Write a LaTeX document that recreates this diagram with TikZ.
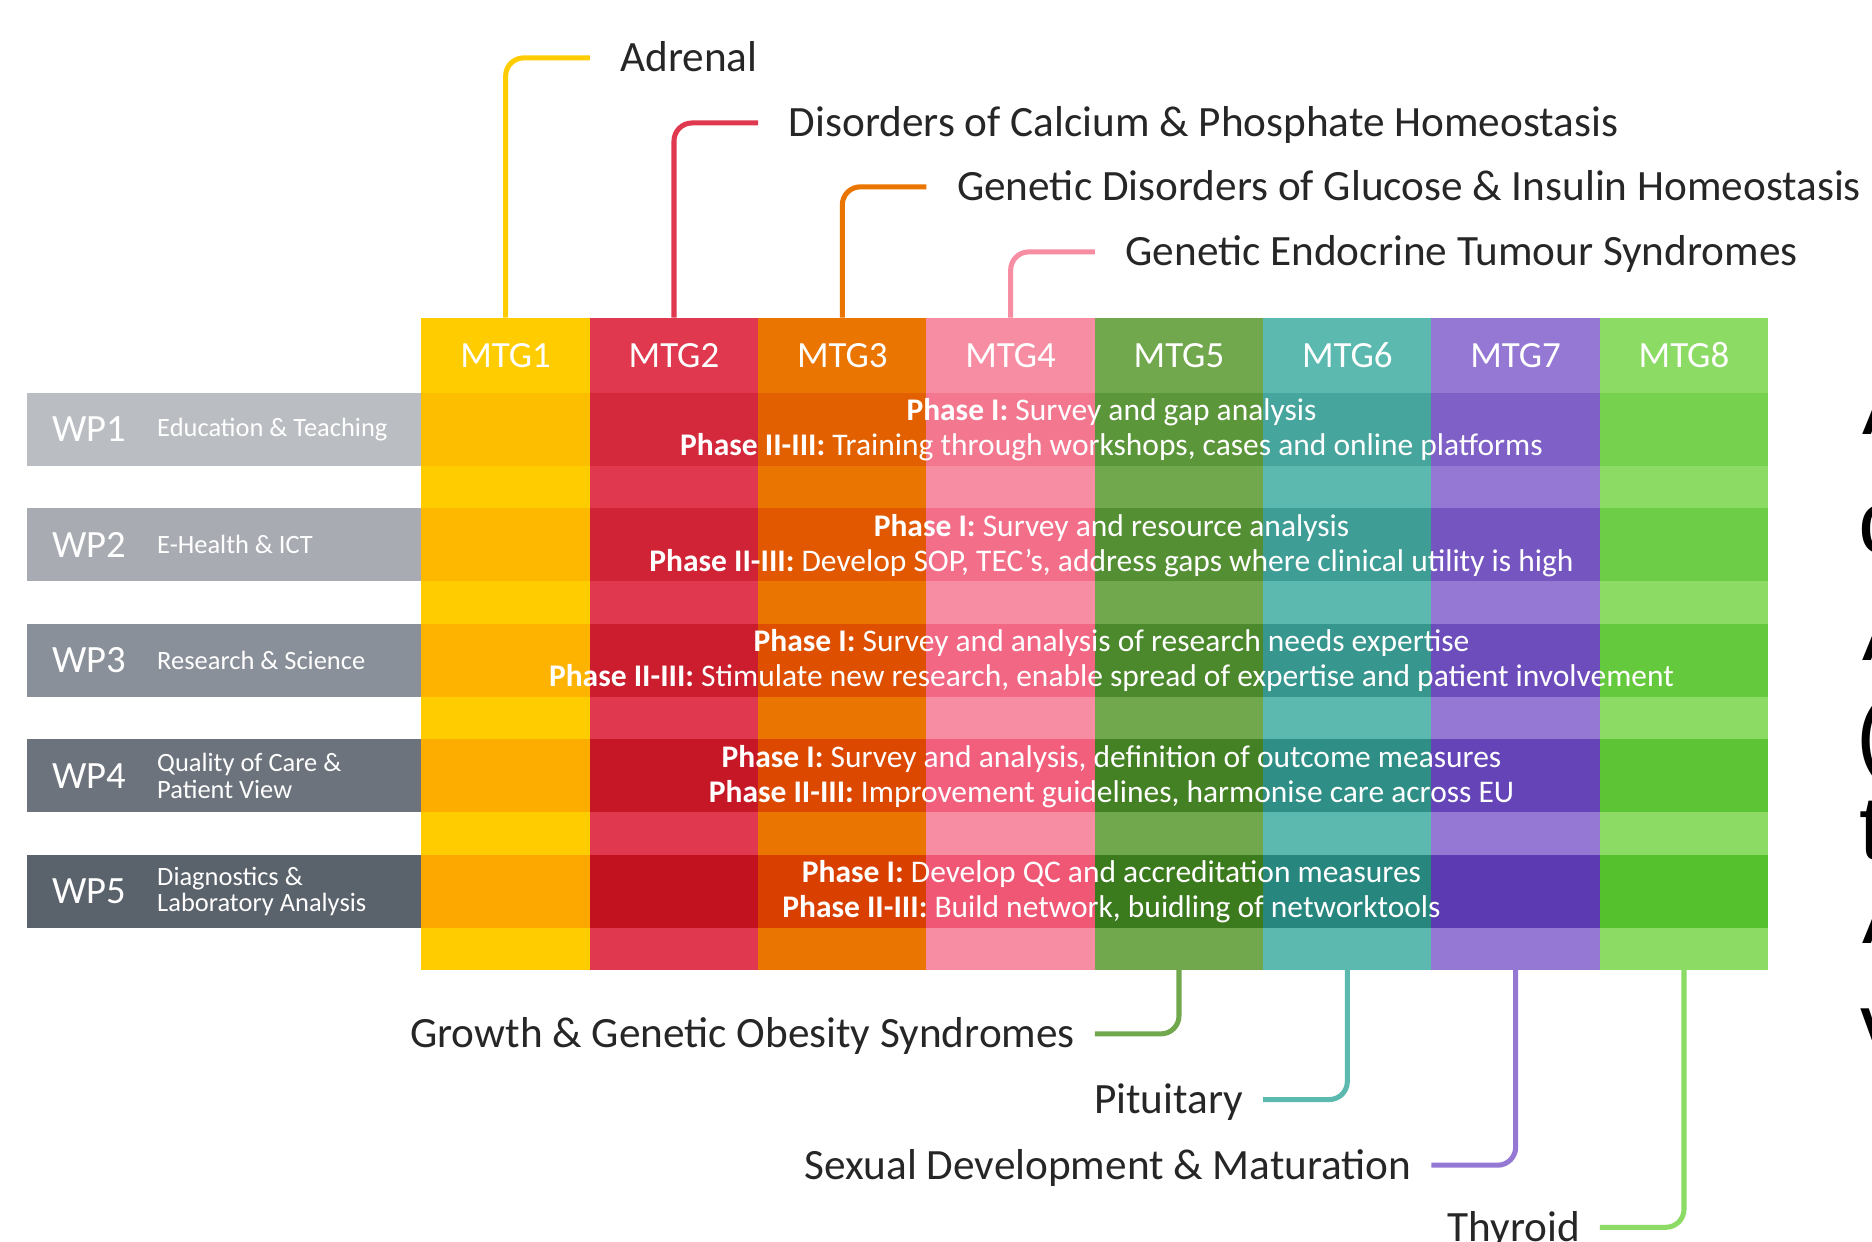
\documentclass[tikz,border=0pt]{standalone}
\usepackage{fontspec}
\setmainfont{Carlito}
\newfontfamily\sidefont{Liberation Sans}
\usepackage{xcolor}
\usepackage{tikz}
\usetikzlibrary{positioning}

% column colours: header / darkest band
\definecolor{mtg1}{HTML}{FFCC00}
\definecolor{mtg2}{HTML}{E0394F}
\definecolor{mtg3}{HTML}{EA7500}
\definecolor{mtg4}{HTML}{F78DA2}
\definecolor{mtg5}{HTML}{72A84D}
\definecolor{mtg6}{HTML}{5BB9B0}
\definecolor{mtg7}{HTML}{9478D3}
\definecolor{mtg8}{HTML}{8BDB64}
\definecolor{dmtg1}{HTML}{FDA800}
\definecolor{dmtg2}{HTML}{C2111F}
\definecolor{dmtg3}{HTML}{D94000}
\definecolor{dmtg4}{HTML}{F05775}
\definecolor{dmtg5}{HTML}{3C7A1E}
\definecolor{dmtg6}{HTML}{27877F}
\definecolor{dmtg7}{HTML}{5C3BB2}
\definecolor{dmtg8}{HTML}{55C12D}
% work package bars
\definecolor{wp1}{HTML}{BABDC1}
\definecolor{wp2}{HTML}{A8ACB2}
\definecolor{wp3}{HTML}{8A9099}
\definecolor{wp4}{HTML}{6C737C}
\definecolor{wp5}{HTML}{5A626C}
\definecolor{labeltext}{HTML}{262626}

\tikzset{
  mtgcolumn/.style={minimum width=1.41cm, minimum height=5.46cm, inner sep=0pt, outer sep=0pt, anchor=north west},
  mtglabel/.style={text=white, font=\fontsize{8.8}{10}\selectfont, inner sep=0pt},
  wpnum/.style={text=white, font=\fontsize{9.2}{10}\selectfont, inner sep=0pt, anchor=west},
  wpdesc/.style={text=white, font=\fontsize{6.3}{6.3}\selectfont, inner sep=0pt, anchor=west, align=left},
  phasetext/.style={text=white, font=\fontsize{7.5}{8.4}\selectfont, inner sep=0pt, align=center},
  toplabel/.style={text=labeltext, font=\fontsize{10.3}{12}\selectfont, text height=6.6pt, text depth=0pt, inner ysep=0pt, inner xsep=0.25cm, anchor=west},
  botlabel/.style={toplabel, inner xsep=0.16cm, anchor=east},
  mtglink/.style={line width=1.2pt, rounded corners=4.3pt},
  sideletter/.style={font=\sidefont\fontsize{21.5}{25}\selectfont, inner sep=0pt, anchor=base west},
}

\begin{document}
\begin{tikzpicture}[x=0.01cm,y=-0.01cm]
  \useasboundingbox (0,0) rectangle (1568,1040);
  \clip (0,0) rectangle (1568,1040);

  % work package bars
  \foreach \k in {1,...,5} {
    \pgfmathsetmacro{\bandtop}{329+(\k-1)*96.75}
    \fill[wp\k] (23,\bandtop) rectangle (353,\bandtop+61);
  }

  % MTG columns with darker work package bands
  \foreach \c in {1,...,8} {
    \node[mtgcolumn, fill=mtg\c] (col\c) at ({353+(\c-1)*141},266) {};
    \foreach \k in {1,...,5} {
      \pgfmathsetmacro{\bandtop}{329+(\k-1)*96.75}
      \pgfmathtruncatemacro{\shade}{25+15*\k}
      \fill[dmtg\c!\shade!mtg\c] ({353+(\c-1)*141},\bandtop) rectangle ++(141,61);
    }
    \node[mtglabel] (mtg\c) at ({423.5+(\c-1)*141},297.5) {MTG\c};
  }

  % work package names
  \foreach \k/\desc in {1/Education \& Teaching, 2/E-Health \& ICT, 3/Research \& Science,
      4/{Quality of Care \&\\Patient View}, 5/{Diagnostics \&\\Laboratory Analysis}} {
    \pgfmathsetmacro{\bandmid}{359.5+(\k-1)*96.75}
    \node[wpnum] (wp\k) at (43,\bandmid) {WP\k};
    \node[wpdesc] (wpdesc\k) at (131,\bandmid) {\desc};
  }

  % phases per work package
  \node[phasetext] (phase1) at (931,360) {\textbf{Phase I:} Survey and gap analysis\\
    \textbf{Phase II-III:} Training through workshops, cases and online platforms};
  \node[phasetext] (phase2) at (931,456.75) {\textbf{Phase I:} Survey and resource analysis\\
    \textbf{Phase II-III:} Develop SOP, TEC's, address gaps where clinical utility is high};
  \node[phasetext] (phase3) at (931,553.5) {\textbf{Phase I:} Survey and analysis of research needs expertise\\
    \textbf{Phase II-III:} Stimulate new research, enable spread of expertise and patient involvement};
  \node[phasetext] (phase4) at (931,650.25) {\textbf{Phase I:} Survey and analysis, definition of outcome measures\\
    \textbf{Phase II-III:} Improvement guidelines, harmonise care across EU};
  \node[phasetext] (phase5) at (931,747) {\textbf{Phase I:} Develop QC and accreditation measures\\
    \textbf{Phase II-III:} Build network, buidling of networktools};

  % thematic groups above
  \node[toplabel] (adrenal) at (494,48.5) {Adrenal};
  \node[toplabel] (calcium) at (635,103) {Disorders of Calcium \& Phosphate Homeostasis};
  \node[toplabel] (glucose) at (776,156.5) {Genetic Disorders of Glucose \& Insulin Homeostasis};
  \node[toplabel] (tumour) at (917,211) {Genetic Endocrine Tumour Syndromes};
  \draw[mtglink, mtg1] (col1.north) |- (adrenal.west);
  \draw[mtglink, mtg2] (col2.north) |- (calcium.west);
  \draw[mtglink, mtg3] (col3.north) |- (glucose.west);
  \draw[mtglink, mtg4] (col4.north) |- (tumour.west);

  % thematic groups below
  \node[botlabel] (growth) at (917,866) {Growth \& Genetic Obesity Syndromes};
  \node[botlabel] (pituitary) at (1058,921) {Pituitary};
  \node[botlabel] (sexual) at (1199,976) {Sexual Development \& Maturation};
  \node[botlabel] (thyroid) at (1340,1028) {Thyroid};
  \draw[mtglink, mtg5] (col5.south) |- (growth.east);
  \draw[mtglink, mtg6] (col6.south) |- (pituitary.east);
  \draw[mtglink, mtg7] (col7.south) |- (sexual.east);
  \draw[mtglink, mtg8] (col8.south) |- (thyroid.east);

  % cut-off text at the right edge
  \node[sideletter] (side1) at (1559,364) {A};
  \node[sideletter] (side2) at (1556,464) {c};
  \node[sideletter] (side3) at (1559,553) {A};
  \node[sideletter] (side4) at (1554,640) {(};
  \node[sideletter] (side5) at (1557,720) {t};
  \node[sideletter] (side6) at (1559,790) {A};
  \node[sideletter] (side7) at (1558,885) {v};
\end{tikzpicture}
\end{document}
